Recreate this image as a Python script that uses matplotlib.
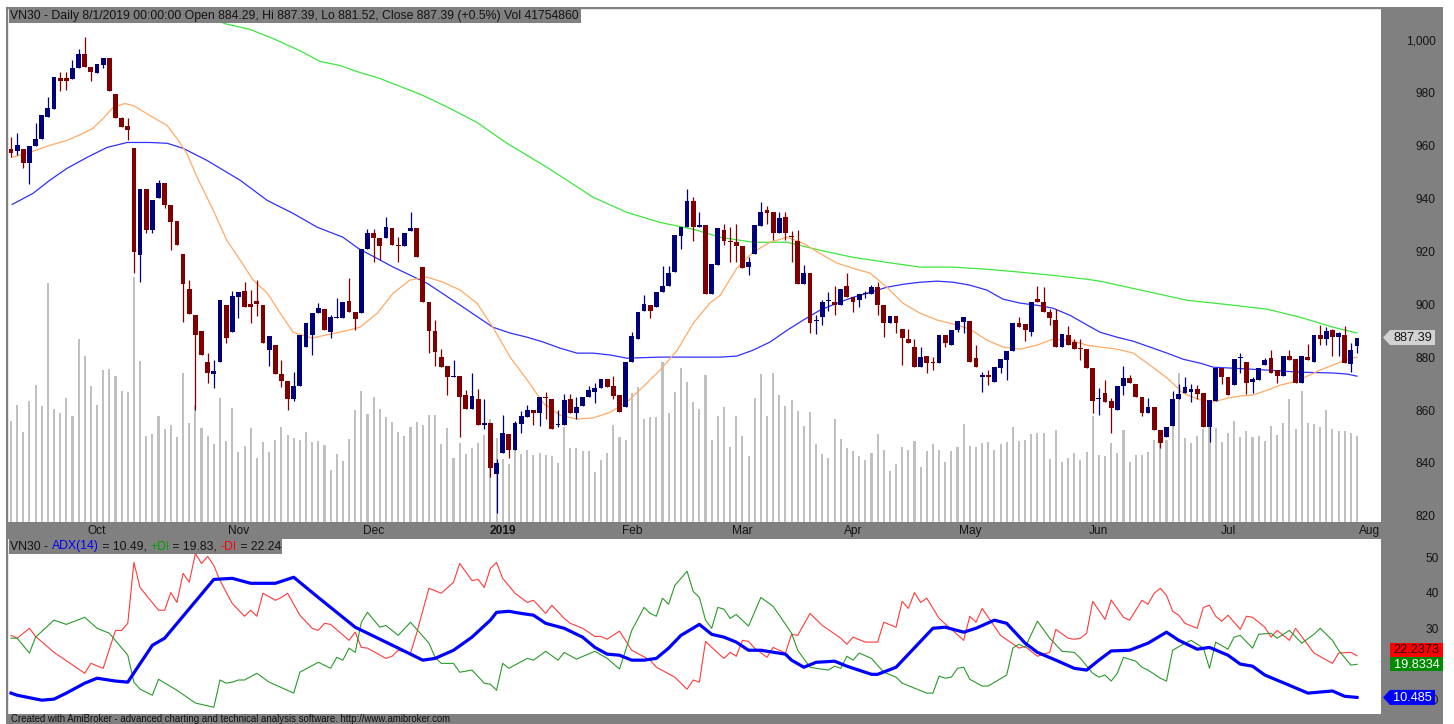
import matplotlib
matplotlib.use("Agg")
import matplotlib.pyplot as plt
from matplotlib.patches import Polygon, Rectangle
from matplotlib.ticker import FuncFormatter

plt.rcParams['font.family'] = ['Liberation Sans', 'DejaVu Sans']

# ---------------- data (VN30 daily) ----------------
opens = [958.5, 957.7, 958.5, 953.2, 959.6, 962.6, 970.9, 973.9, 985.3, 985.3,
         984.9, 989.4, 994.7, 989.8, 987.2, 990.2, 993.2, 979.3, 970.2, 967.2,
         959.0, 918.5, 943.4, 927.9, 940.0, 945.7, 937.4, 931.3, 919.0, 905.7,
         895.8, 890.0, 878.1, 873.6, 878.1, 899.6, 889.4, 902.6, 904.9, 900.0,
         901.1, 899.6, 882.6, 884.5, 873.6, 871.0, 864.0, 869.0, 883.8, 888.3,
         896.6, 898.0, 889.4, 894.7, 894.7, 901.1, 897.0, 896.6, 921.0, 927.0,
         925.0, 925.0, 928.7, 922.3, 922.0, 927.5, 928.7, 914.0, 900.8, 890.0,
         880.0, 876.6, 872.5, 873.0, 865.7, 860.4, 864.0, 854.3, 855.0, 835.8,
         843.8, 851.0, 845.0, 854.7, 857.3, 860.0, 859.0, 865.0, 864.0, 854.3,
         854.3, 864.0, 859.0, 861.5, 865.0, 867.0, 868.3, 871.7, 869.0, 865.7,
         861.0, 878.0, 887.0, 897.4, 899.6, 899.0, 904.5, 906.8, 912.0, 925.7,
         929.0, 939.0, 929.0, 930.0, 904.0, 914.7, 928.0, 923.6, 923.4, 922.0,
         914.0, 919.0, 929.4, 935.5, 934.7, 926.8, 933.0, 925.5, 924.0, 907.5,
         911.7, 893.5, 895.0, 901.3, 901.0, 899.6, 906.8, 902.6, 901.5, 904.0,
         904.0, 906.4, 899.6, 892.8, 895.5, 890.6, 886.8, 883.8, 876.2, 880.4,
         878.0, 877.7, 888.3, 884.5, 890.2, 893.2, 893.5, 879.6, 872.5, 873.4,
         870.5, 876.0, 879.0, 882.2, 892.8, 892.4, 889.4, 902.0, 901.0, 897.0,
         894.0, 883.8, 888.3, 885.7, 883.2, 883.0, 875.8, 864.0, 866.4, 863.4,
         860.0, 869.0, 872.0, 870.0, 865.0, 859.0, 861.0, 852.5, 849.8, 854.0,
         864.0, 866.4, 867.0, 868.0, 866.4, 853.6, 863.4, 876.0, 872.5, 869.4,
         879.6, 878.0, 870.6, 871.3, 877.0, 879.6, 875.0, 872.8, 880.4, 879.2,
         870.2, 880.0, 878.0, 888.3, 887.0, 890.2, 887.5, 888.3, 877.4, 884.29]
highs = [963.0, 964.5, 958.5, 959.6, 968.6, 971.3, 978.1, 985.7, 987.9, 987.6,
         992.1, 996.6, 1000.8, 989.8, 990.6, 993.2, 993.2, 979.3, 970.6, 970.2,
         959.0, 943.4, 943.4, 939.3, 946.8, 945.7, 937.4, 931.3, 919.0, 909.1,
         895.8, 890.0, 881.5, 878.9, 901.5, 899.6, 904.9, 904.5, 908.3, 905.3,
         909.1, 899.6, 887.9, 884.5, 878.9, 871.0, 874.3, 888.3, 892.8, 896.6,
         900.4, 898.0, 895.8, 902.2, 900.8, 910.0, 897.0, 921.0, 928.3, 928.3,
         925.0, 932.8, 928.7, 925.3, 927.0, 934.7, 928.7, 914.0, 900.8, 894.0,
         883.0, 876.6, 879.0, 873.0, 867.5, 874.0, 868.0, 864.0, 855.0, 841.5,
         858.1, 851.0, 856.0, 859.5, 862.0, 860.0, 865.0, 867.0, 864.0, 859.9,
         866.0, 866.0, 865.0, 865.0, 869.0, 870.4, 871.7, 871.7, 873.0, 865.7,
         878.0, 889.4, 897.0, 903.4, 899.6, 904.5, 914.3, 914.3, 926.0, 929.0,
         943.4, 940.5, 934.7, 930.0, 915.0, 928.7, 930.4, 929.0, 930.4, 922.0,
         918.0, 929.8, 938.5, 937.0, 934.7, 934.7, 934.7, 927.5, 927.9, 914.7,
         911.7, 895.8, 901.5, 904.5, 907.0, 905.7, 911.7, 902.6, 903.8, 905.0,
         907.2, 908.3, 899.6, 895.5, 895.5, 890.6, 890.5, 887.0, 883.8, 880.4,
         880.0, 888.3, 888.3, 890.2, 893.5, 895.0, 893.5, 884.5, 874.3, 875.0,
         876.2, 879.2, 882.2, 892.8, 895.0, 892.4, 900.8, 906.8, 906.4, 898.0,
         898.0, 888.7, 891.7, 887.0, 887.0, 883.0, 875.8, 868.3, 871.3, 864.6,
         869.0, 876.6, 873.3, 870.0, 865.0, 864.4, 861.0, 852.5, 853.7, 867.2,
         869.8, 872.5, 870.0, 869.5, 866.4, 863.8, 876.0, 876.0, 872.5, 879.2,
         881.5, 878.0, 872.5, 876.0, 879.5, 882.6, 875.0, 880.4, 882.6, 879.2,
         880.4, 885.0, 888.3, 892.0, 891.5, 890.6, 889.5, 891.7, 885.3, 887.39]
lows = [955.5, 956.2, 951.3, 945.5, 959.6, 962.6, 970.9, 973.9, 980.4, 980.8,
        984.9, 989.4, 989.8, 984.5, 987.2, 989.1, 980.4, 970.2, 966.8, 961.9,
        911.7, 908.3, 926.8, 926.8, 940.0, 936.2, 920.4, 922.3, 893.2, 896.2,
        860.0, 880.8, 870.2, 868.3, 878.1, 885.3, 889.4, 894.7, 898.9, 892.8,
        895.5, 885.3, 876.6, 873.6, 868.7, 860.0, 863.4, 869.0, 883.8, 880.8,
        896.6, 890.2, 887.2, 894.7, 894.7, 897.0, 890.2, 896.6, 921.0, 916.0,
        916.6, 925.0, 922.3, 916.0, 922.0, 927.5, 918.0, 900.8, 881.5, 876.6,
        876.2, 865.7, 872.5, 850.0, 860.4, 860.4, 854.3, 853.0, 834.7, 821.0,
        843.8, 842.0, 845.0, 851.5, 857.3, 854.3, 854.0, 856.5, 853.0, 853.5,
        854.3, 859.0, 856.5, 861.5, 865.0, 862.5, 868.3, 868.7, 864.0, 859.2,
        861.0, 878.0, 887.0, 897.4, 894.7, 899.0, 904.5, 906.8, 912.0, 920.8,
        929.0, 923.8, 929.0, 904.0, 904.0, 914.7, 922.3, 916.0, 916.0, 913.6,
        911.0, 919.0, 929.4, 930.4, 924.2, 926.8, 924.2, 916.0, 907.5, 907.5,
        889.1, 888.7, 892.0, 897.5, 896.0, 899.6, 902.6, 897.0, 899.0, 902.5,
        904.0, 896.0, 887.5, 892.8, 889.0, 877.0, 885.3, 876.2, 876.2, 874.0,
        875.0, 877.7, 883.8, 884.5, 889.4, 889.1, 878.0, 876.2, 866.8, 869.4,
        870.5, 874.0, 871.5, 882.2, 891.3, 886.0, 887.9, 901.0, 897.0, 892.0,
        883.8, 883.8, 884.5, 883.0, 879.0, 875.8, 858.9, 858.0, 863.0, 851.5,
        860.0, 865.5, 870.2, 865.0, 857.7, 859.0, 852.5, 845.7, 849.8, 854.0,
        864.0, 866.4, 863.0, 864.0, 853.6, 848.0, 863.4, 870.0, 865.7, 869.4,
        874.0, 866.0, 866.4, 871.3, 877.0, 874.0, 870.2, 872.8, 879.0, 870.2,
        870.2, 879.0, 878.0, 884.5, 884.5, 880.4, 880.4, 877.7, 874.3, 881.52]
closes = [957.0, 960.0, 953.2, 959.6, 962.6, 971.3, 974.3, 985.7, 984.5, 984.2,
          989.1, 994.7, 989.8, 987.6, 990.6, 993.2, 980.4, 970.2, 966.8, 966.0,
          919.6, 943.4, 927.9, 939.3, 945.7, 937.4, 931.0, 922.3, 907.5, 896.2,
          888.3, 880.8, 874.0, 874.7, 901.5, 887.2, 903.0, 904.5, 898.9, 898.9,
          900.0, 885.3, 887.9, 873.6, 871.0, 864.0, 869.0, 888.3, 892.8, 896.6,
          898.5, 890.2, 895.1, 895.1, 900.8, 897.0, 894.3, 921.0, 927.0, 925.0,
          922.0, 929.0, 922.3, 922.0, 927.0, 928.7, 918.0, 900.8, 889.8, 882.0,
          876.2, 872.5, 873.0, 865.0, 860.4, 865.3, 854.3, 855.0, 838.0, 840.0,
          851.3, 845.0, 855.0, 857.7, 860.0, 859.0, 865.0, 864.5, 853.0, 854.5,
          863.8, 859.0, 861.0, 865.0, 867.5, 868.5, 871.7, 868.7, 865.3, 859.2,
          878.0, 888.0, 897.0, 900.0, 897.4, 904.5, 907.0, 911.7, 926.0, 929.0,
          939.0, 929.0, 930.0, 904.0, 915.0, 928.7, 924.0, 923.4, 922.0, 913.6,
          916.0, 929.8, 935.0, 934.3, 926.8, 932.4, 926.8, 925.3, 907.5, 911.7,
          892.8, 893.9, 901.0, 901.5, 899.6, 905.7, 902.6, 901.0, 903.8, 904.2,
          906.4, 899.6, 892.8, 895.5, 892.8, 887.2, 885.3, 876.2, 880.0, 877.7,
          877.7, 888.3, 885.3, 890.2, 893.5, 895.0, 878.0, 876.2, 873.4, 872.5,
          876.2, 879.2, 882.2, 892.8, 891.3, 890.2, 900.8, 901.0, 897.0, 894.7,
          883.8, 888.7, 884.5, 883.0, 883.0, 875.8, 863.4, 864.4, 863.0, 860.8,
          869.0, 872.0, 870.2, 865.0, 859.0, 861.0, 852.5, 847.5, 853.6, 864.0,
          866.0, 868.7, 868.0, 866.0, 853.6, 863.8, 876.0, 872.5, 865.7, 879.2,
          880.0, 870.2, 871.7, 876.0, 879.0, 874.0, 872.8, 880.4, 879.0, 870.2,
          880.4, 879.0, 888.3, 886.8, 889.8, 887.5, 889.0, 877.7, 882.6, 887.39]
# volume in millions of shares
volume_m = [49.0, 56.8, 43.7, 58.7, 66.5, 56.3, 116.0, 54.9, 52.9, 60.2,
            51.5, 88.8, 80.6, 66.0, 56.8, 73.8, 74.3, 70.9, 63.6, 63.1,
            118.9, 78.2, 41.8, 42.7, 51.5, 45.2, 47.1, 41.3, 72.3, 48.1,
            56.8, 45.6, 41.8, 37.9, 60.2, 39.3, 55.3, 34.0, 36.9, 45.6,
            31.1, 38.8, 34.0, 39.8, 46.1, 42.2, 40.8, 39.8, 43.7, 38.8,
            39.3, 37.4, 25.2, 33.0, 29.6, 40.3, 54.4, 63.6, 52.4, 60.7,
            54.9, 51.0, 48.6, 43.7, 41.8, 46.1, 48.6, 47.1, 51.9, 51.9,
            37.9, 45.6, 31.1, 38.4, 33.0, 35.9, 38.4, 42.2, 50.0, 40.8,
            30.6, 28.2, 35.4, 33.0, 35.0, 32.5, 33.5, 32.5, 32.0, 28.6,
            46.1, 35.9, 35.9, 34.5, 34.5, 24.3, 30.1, 33.5, 47.1, 41.3,
            39.8, 62.6, 65.5, 50.0, 51.0, 51.0, 77.7, 52.9, 63.1, 74.8,
            68.0, 58.3, 54.9, 71.4, 39.8, 51.5, 55.8, 36.4, 51.5, 41.8,
            32.0, 60.2, 71.9, 51.5, 72.3, 61.7, 56.3, 59.2, 53.9, 46.6,
            53.4, 37.9, 33.0, 31.1, 50.0, 40.3, 35.9, 34.5, 32.0, 30.1,
            33.5, 42.7, 35.0, 24.8, 28.2, 36.4, 35.0, 39.3, 26.7, 34.5,
            37.9, 35.0, 29.1, 34.5, 36.4, 47.6, 36.9, 36.4, 38.4, 38.8,
            35.0, 37.9, 38.8, 46.1, 39.3, 39.8, 42.7, 43.2, 43.2, 30.6,
            44.7, 29.1, 31.1, 33.5, 30.1, 34.0, 51.5, 32.5, 32.0, 38.4,
            33.5, 44.7, 29.1, 32.5, 32.5, 34.0, 39.8, 44.2, 39.8, 52.9,
            72.3, 40.8, 38.4, 41.8, 45.2, 49.0, 45.6, 38.8, 43.2, 49.0,
            41.3, 44.2, 41.3, 41.8, 39.3, 46.6, 42.2, 48.1, 59.7, 45.2,
            63.6, 48.1, 47.6, 46.1, 54.4, 45.2, 44.2, 44.2, 43.2, 41.75486]

# moving averages (bar index, value)
ma_fast = [(0.2, 955.5), (3.1, 957.4), (6.3, 960.0), (9.1, 961.9), (11.7, 964.5), (13.3, 966.4),
           (15.0, 970.2), (16.6, 974.3), (18.5, 975.8), (19.9, 975.1), (22.6, 971.3), (25.4, 967.5),
           (27.0, 962.6), (28.6, 957.0), (30.3, 947.9), (32.9, 935.5), (35.1, 924.2), (37.3, 916.6),
           (39.4, 909.1), (41.7, 904.2), (43.8, 896.6), (45.9, 889.4), (47.5, 888.3), (49.0, 887.2),
           (51.1, 888.3), (53.5, 889.4), (56.8, 891.3), (59.6, 896.6), (62.2, 904.2), (64.9, 909.1),
           (67.7, 910.2), (70.3, 908.3), (73.1, 905.3), (75.8, 900.4), (78.4, 891.3), (81.2, 880.0),
           (84.0, 871.3), (86.6, 862.6), (89.3, 858.1), (92.1, 856.6), (94.7, 857.0), (97.5, 859.2),
           (100.2, 863.0), (102.8, 868.7), (105.6, 875.1), (108.4, 882.6), (111.0, 892.8), (113.7, 900.4),
           (115.4, 903.4), (118.1, 913.6), (120.7, 919.6), (123.5, 923.4), (126.3, 925.3), (128.9, 923.0),
           (131.6, 919.2), (134.4, 915.5), (137.0, 913.6), (139.8, 911.7), (142.5, 906.4), (145.1, 900.4),
           (147.9, 896.6), (150.7, 894.0), (153.3, 892.5), (156.0, 890.6), (158.8, 886.4), (161.4, 883.8),
           (164.2, 883.0), (166.9, 884.5), (169.5, 886.8), (172.3, 886.4), (175.1, 884.5), (177.2, 883.8),
           (180.0, 883.0), (182.6, 881.5), (185.3, 877.0), (188.1, 872.1), (190.7, 866.4), (193.5, 863.8),
           (195.6, 863.0), (197.9, 864.5), (200.0, 865.3), (202.1, 865.7), (204.4, 867.5), (206.5, 869.4),
           (208.6, 870.6), (210.9, 872.8), (213.0, 875.1), (215.1, 877.0), (217.4, 879.2), (219.0, 880.0)]
ma_mid = [(0.2, 937.7), (3.6, 941.9), (6.3, 946.8), (9.1, 951.3), (12.4, 955.5), (15.6, 959.2),
          (18.9, 961.1), (22.6, 961.1), (25.4, 960.8), (28.0, 958.9), (31.9, 954.3), (37.3, 946.8),
          (41.7, 939.2), (45.9, 934.3), (49.8, 929.1), (54.0, 925.3), (56.5, 921.1), (62.2, 914.0),
          (67.7, 907.9), (73.1, 899.6), (78.4, 891.3), (81.2, 889.1), (84.0, 887.5), (86.6, 885.7),
          (89.3, 883.4), (92.1, 881.5), (94.7, 881.5), (97.5, 880.8), (100.2, 879.6), (105.6, 880.0),
          (111.0, 880.0), (115.4, 880.0), (118.1, 880.4), (120.7, 882.6), (123.5, 885.7), (126.3, 890.2),
          (128.9, 894.0), (131.6, 897.7), (134.4, 900.4), (137.0, 902.6), (139.8, 904.5), (142.5, 906.4),
          (145.1, 907.5), (147.9, 908.3), (150.7, 908.7), (153.3, 908.3), (156.0, 907.2), (158.8, 905.3),
          (161.4, 901.9), (164.2, 900.4), (166.9, 899.6), (169.5, 898.5), (172.3, 895.8), (175.1, 892.1),
          (177.2, 889.4), (180.0, 887.5), (182.6, 886.0), (185.3, 883.8), (188.1, 881.5), (190.7, 879.2),
          (193.5, 877.7), (195.6, 876.2), (198.9, 875.8), (204.4, 875.1), (209.7, 874.3), (215.1, 874.0),
          (217.4, 873.6), (219.0, 872.8)]
ma_slow = [(30.0, 1010.5), (34.8, 1006.0), (38.9, 1003.8), (42.6, 1000.4), (47.0, 995.8), (50.3, 991.7),
           (53.5, 990.2), (56.8, 987.5), (60.0, 985.3), (63.3, 982.3), (67.0, 978.9), (71.4, 974.0),
           (75.8, 968.7), (80.7, 960.8), (84.0, 956.2), (87.2, 951.7), (90.5, 946.8), (94.7, 940.4),
           (100.2, 934.7), (105.6, 930.9), (111.0, 928.3), (115.4, 925.3), (120.7, 923.4), (126.3, 923.4),
           (131.6, 920.4), (137.0, 917.7), (142.5, 915.8), (147.9, 914.0), (153.3, 914.0), (158.8, 913.2),
           (164.2, 912.1), (169.5, 910.9), (175.1, 909.4), (177.2, 908.7), (191.3, 901.5), (198.9, 899.6),
           (204.4, 898.1), (209.7, 895.1), (215.1, 891.3), (219.0, 889.1)]

# ADX(14) panel (bar index, value)
minus_di = [(0, 28.0), (1, 27.2), (3, 30.0), (4, 27.7), (7, 23.2), (12, 17.3), (13, 20.1), (15, 18.7),
            (17, 29.4), (18, 29.4), (19, 31.4), (20, 48.6), (21, 41.5), (24, 35.1), (25, 35.1), (26, 40.1),
            (27, 37.3), (28, 45.5), (29, 43.0), (30, 51.1), (31, 48.3), (32, 50.3), (33, 47.7), (34, 43.5),
            (36, 37.0), (38, 33.4), (39, 35.1), (40, 33.4), (41, 39.9), (43, 37.9), (44, 38.7), (45, 39.9),
            (47, 33.7), (49, 30.0), (50, 29.4), (51, 31.4), (52, 31.1), (55, 26.6), (56, 28.9), (57, 24.6),
            (58, 24.4), (61, 21.5), (62, 22.1), (63, 23.8), (65, 23.0), (66, 28.6), (68, 41.3), (70, 39.9),
            (72, 43.0), (73, 48.3), (75, 43.5), (76, 43.8), (77, 41.5), (78, 46.9), (79, 48.6), (80, 44.1),
            (82, 39.9), (84, 37.3), (85, 37.9), (87, 34.2), (88, 36.5), (90, 32.8), (91, 31.4), (93, 30.0),
            (95, 27.7), (96, 27.7), (97, 26.9), (99, 29.2), (101, 23.8), (104, 21.0), (105, 19.0), (108, 16.2),
            (110, 12.8), (111, 15.4), (112, 14.8), (113, 26.3), (115, 23.0), (116, 21.5), (117, 23.2),
            (118, 22.1), (119, 26.6), (120, 26.3), (121, 24.4), (123, 21.8), (124, 24.6), (126, 23.0),
            (127, 28.3), (128, 28.0), (130, 34.2), (132, 30.8), (135, 27.2), (136, 25.5), (137, 27.5),
            (139, 26.1), (141, 26.1), (142, 31.7), (144, 30.3), (145, 37.6), (146, 35.6), (147, 40.1),
            (148, 37.3), (149, 38.5), (151, 32.8), (155, 26.6), (156, 33.4), (157, 31.7), (158, 35.6),
            (159, 33.1), (161, 28.0), (164, 24.4), (165, 24.9), (167, 22.1), (169, 23.2), (170, 29.7),
            (172, 27.2), (173, 26.9), (174, 27.2), (175, 28.6), (176, 37.6), (178, 32.5), (179, 38.0),
            (181, 33.1), (182, 32.3), (184, 37.9), (185, 36.8), (186, 39.9), (187, 41.3), (188, 39.3),
            (189, 34.8), (190, 33.7), (191, 31.4), (193, 30.0), (194, 35.9), (195, 36.5), (196, 33.4),
            (197, 32.0), (198, 33.7), (200, 29.7), (201, 33.4), (202, 33.1), (204, 30.3), (205, 27.5),
            (206, 29.4), (208, 26.6), (209, 30.0), (212, 23.0), (215, 20.1), (216, 23.0), (218, 23.2),
            (219, 22.2373)]
plus_di = [(0, 27.2), (1, 27.2), (3, 23.0), (4, 27.5), (7, 32.3), (9, 31.1), (12, 33.1), (14, 30.0),
           (16, 28.6), (19, 22.4), (20, 14.8), (21, 12.8), (23, 11.1), (24, 15.6), (27, 12.5), (30, 8.9),
           (33, 7.7), (34, 15.4), (35, 14.5), (36, 14.8), (37, 15.4), (38, 15.4), (40, 17.3), (42, 14.8),
           (46, 11.7), (47, 17.6), (50, 20.4), (52, 18.7), (53, 21.8), (54, 21.0), (55, 24.4), (56, 23.2),
           (57, 31.7), (58, 34.5), (60, 30.3), (61, 30.8), (63, 28.0), (65, 31.7), (68, 25.8), (69, 21.8),
           (70, 20.1), (72, 20.1), (73, 17.6), (75, 18.2), (77, 14.5), (78, 14.2), (79, 12.5), (80, 20.1),
           (81, 18.7), (84, 21.5), (85, 21.0), (87, 23.5), (89, 21.0), (90, 23.2), (92, 21.3), (95, 23.5),
           (97, 21.5), (99, 18.5), (100, 23.8), (101, 29.4), (103, 35.9), (104, 34.2), (105, 33.4),
           (106, 38.5), (107, 36.8), (108, 42.1), (110, 46.1), (111, 40.4), (112, 38.7), (113, 32.3),
           (114, 30.0), (115, 35.9), (116, 35.4), (117, 32.8), (118, 33.9), (120, 30.6), (122, 38.7),
           (124, 36.2), (125, 33.7), (127, 28.6), (128, 23.8), (130, 19.0), (131, 18.7), (133, 18.2),
           (134, 19.3), (135, 18.7), (136, 22.1), (137, 21.0), (138, 23.0), (140, 21.5), (142, 17.6),
           (144, 16.2), (145, 14.5), (149, 11.7), (150, 11.7), (151, 16.5), (152, 15.9), (153, 16.2),
           (154, 18.7), (155, 19.0), (156, 15.6), (158, 13.7), (159, 13.7), (162, 16.8), (163, 24.4),
           (164, 25.5), (165, 24.6), (167, 32.0), (169, 27.2), (171, 23.5), (173, 23.2), (174, 21.5),
           (176, 17.3), (177, 16.2), (178, 16.8), (179, 15.1), (180, 17.3), (181, 21.8), (183, 20.7),
           (184, 19.0), (185, 18.2), (187, 15.9), (188, 15.1), (189, 23.8), (191, 25.8), (192, 26.6),
           (194, 24.4), (195, 18.7), (196, 26.1), (198, 24.1), (199, 27.5), (200, 28.0), (202, 24.4),
           (203, 28.3), (205, 28.6), (206, 27.2), (208, 29.4), (210, 25.8), (212, 28.3), (213, 30.0),
           (215, 26.6), (216, 23.8), (218, 19.6), (219, 19.8334)]
adx = [(0, 11.7), (1, 11.1), (5, 9.7), (7, 10.0), (9, 11.7), (12, 14.5), (14, 15.9), (17, 15.1),
       (19, 14.8), (23, 25.2), (25, 27.2), (33, 43.8), (36, 44.1), (39, 42.7), (43, 42.7), (46, 44.4),
       (50, 38.7), (56, 30.3), (61, 26.1), (67, 21.0), (69, 21.5), (72, 23.8), (75, 27.5), (78, 32.3),
       (79, 34.5), (81, 34.8), (83, 34.2), (85, 33.7), (87, 31.4), (90, 30.0), (93, 27.5), (95, 24.6),
       (97, 22.7), (99, 22.4), (101, 21.0), (103, 21.0), (105, 21.5), (107, 24.4), (109, 28.0),
       (112, 31.1), (114, 28.3), (116, 27.5), (118, 26.1), (120, 23.8), (122, 23.8), (126, 22.7),
       (127, 21.0), (129, 19.0), (131, 20.4), (134, 20.7), (136, 19.3), (140, 17.0), (141, 17.0),
       (144, 19.0), (150, 30.0), (152, 30.3), (155, 28.9), (157, 30.0), (160, 32.3), (162, 31.4),
       (165, 25.8), (167, 23.2), (170, 21.0), (173, 18.7), (175, 18.2), (177, 21.0), (179, 23.6),
       (182, 23.8), (185, 25.8), (188, 28.9), (190, 26.6), (193, 24.1), (195, 24.6), (198, 22.4),
       (200, 19.9), (202, 19.3), (204, 16.8), (208, 13.9), (211, 11.7), (213, 12.0), (215, 12.3),
       (217, 10.8), (219, 10.4852)]

month_pos = [14, 37, 59, 80, 101, 119, 137, 156, 177, 198, 221]
month_lbl = ['Oct', 'Nov', 'Dec', '2019', 'Feb', 'Mar', 'Apr', 'May', 'Jun', 'Jul', 'Aug']
price_ticks = [820, 840, 860, 880, 900, 920, 940, 960, 980, 1000]
adx_ticks = [10, 30, 40, 50]   # the 20 label sits hidden under the DI value boxes

# ---------------- layout ----------------
W, H = 1454, 724
GREY = '#808080'
TXT = '#141414'
UP, DN = '#00007a', '#800000'
FS = 8.8      # title / legend text
TFS = 8.6     # axis labels

fig = plt.figure(figsize=(W / 100, H / 100), dpi=100, facecolor=GREY)


def box(l, t, r, b):
    return [l / W, 1 - b / H, (r - l) / W, (b - t) / H]


L, R = 7, 1381
ax_v = fig.add_axes(box(L, 7.5, R, 522))
ax = fig.add_axes(box(L, 7.5, R, 522))
ax2 = fig.add_axes(box(L, 538.5, R, 714))
XL = (-0.65, 222.9)

# volume (background layer)
n = len(closes)
xs = list(range(n))
ax_v.bar(xs, volume_m, width=0.34, color='#c0c0c0', linewidth=0)
ax_v.set_ylim(0, 250)
ax_v.set_xlim(*XL)
ax_v.set_facecolor('white')
ax_v.set_xticks([])
ax_v.set_yticks([])
for s in ax_v.spines.values():
    s.set_visible(False)

# price
ax.patch.set_visible(False)
ax.plot([p[0] for p in ma_slow], [p[1] for p in ma_slow], color='#3ee63e', lw=0.9, zorder=2)
ax.plot([p[0] for p in ma_mid], [p[1] for p in ma_mid], color='#3030ff', lw=0.9, zorder=2)
ax.plot([p[0] for p in ma_fast], [p[1] for p in ma_fast], color='#ffaa66', lw=0.9, zorder=2)
cols = [UP if c >= o else DN for o, c in zip(opens, closes)]
ax.vlines(xs, lows, highs, colors=cols, lw=0.9, zorder=3)
bot = [min(o, c) for o, c in zip(opens, closes)]
hgt = [max(abs(c - o), 0.4) for o, c in zip(opens, closes)]
ax.bar(xs, hgt, bottom=bot, width=0.78, color=cols, linewidth=0, zorder=4)
ax.set_xlim(*XL)
ax.set_ylim(817.7, 1012.1)
for s in ax.spines.values():
    s.set_visible(False)
ax.yaxis.tick_right()
ax.set_yticks(price_ticks)
ax.yaxis.set_major_formatter(FuncFormatter(lambda v, p: f'{v:,.0f}'))
ax.tick_params(axis='y', length=0, pad=39.5, labelsize=TFS, labelcolor=TXT)
for t in ax.get_yticklabels():
    t.set_ha('right')
ax.set_xticks(month_pos)
ax.set_xticklabels(month_lbl)
ax.tick_params(axis='x', length=0, pad=2.2, labelsize=TFS, labelcolor=TXT)
ax.get_xticklabels()[month_lbl.index('2019')].set_fontweight('bold')

# ADX panel
ax2.set_facecolor('white')
ax2.plot([p[0] for p in minus_di], [p[1] for p in minus_di], color='#ff3a3a', lw=0.8)
ax2.plot([p[0] for p in plus_di], [p[1] for p in plus_di], color='#2a9a2a', lw=0.8)
ax2.plot([p[0] for p in adx], [p[1] for p in adx], color='#0000ff', lw=2.3)
ax2.set_xlim(*XL)
ax2.set_ylim(5.8, 55.35)
for s in ax2.spines.values():
    s.set_visible(False)
ax2.set_xticks([])
ax2.yaxis.tick_right()
ax2.set_yticks(adx_ticks)
ax2.tick_params(axis='y', length=0, pad=41.5, labelsize=TFS, labelcolor=TXT)
for t in ax2.get_yticklabels():
    t.set_ha('right')

# ---------------- overlay (frame, titles, value labels) ----------------
ov = fig.add_axes([0, 0, 1, 1])
ov.set_xlim(0, W)
ov.set_ylim(H, 0)
ov.axis('off')
ov.set_zorder(10)
ov.add_patch(Rectangle((0, 0), W, 7, fc='white', ec='none'))
ov.add_patch(Rectangle((0, 0), 6, H, fc='white', ec='none'))
ov.add_patch(Rectangle((1443, 0), W - 1443, H, fc='white', ec='none'))
ov.plot([6, 1382], [7.5, 7.5], color=GREY, lw=1)
ov.plot([6.5, 6.5], [7, H], color=GREY, lw=1)

bb = dict(boxstyle='square,pad=0.12', fc=GREY, ec='none')
title = (f'VN30 - Daily 8/1/2019 00:00:00 Open {opens[-1]:.2f}, Hi {highs[-1]:.2f}, '
         f'Lo {lows[-1]:.2f}, Close {closes[-1]:.2f} (+0.5%) Vol {round(volume_m[-1] * 1e6)}')
ov.text(10.5, 15.5, title, fontsize=FS, color=TXT, va='center', ha='left', bbox=bb)

parts = [('VN30 - ', TXT), ('ADX(14)', '#0000ff'), (f' = {adx[-1][1]:.2f}, ', TXT),
         ('+DI', '#00a000'), (f' = {plus_di[-1][1]:.2f}, ', TXT),
         ('-DI', '#ff0000'), (f' = {minus_di[-1][1]:.2f}', TXT)]
t = ov.text(10.5, 546.5, parts[0][0], fontsize=FS, color=parts[0][1], va='center', ha='left', bbox=bb)
for s, c in parts[1:]:
    t = ov.annotate(s, xy=(1, 0), xycoords=t, va='bottom', ha='left',
                    fontsize=FS, color=c, bbox=bb)

ov.text(11, 719.5, 'Created with AmiBroker - advanced charting and technical analysis software. '
        'http://www.amibroker.com', fontsize=6.9, color='#101010', va='center', ha='left')


def pix_y(axis, v):
    return H - axis.transData.transform((0, v))[1]


def arrow_label(y, text, fc, tc):
    ov.add_patch(Polygon([(1383, y), (1390, y - 7.5), (1435, y - 7.5), (1435, y + 7.5), (1390, y + 7.5)],
                         closed=True, fc=fc, ec='none'))
    ov.text(1432, y + 0.5, text, fontsize=TFS + 0.6, color=tc, va='center', ha='right')


arrow_label(pix_y(ax, closes[-1]), f'{closes[-1]:.2f}', '#d2d2d2', TXT)
arrow_label(pix_y(ax2, adx[-1][1]), f'{adx[-1][1]:.3f}', '#0000ff', 'white')

yg = pix_y(ax2, plus_di[-1][1])
yr = min(pix_y(ax2, minus_di[-1][1]), yg - 14.5)
ov.add_patch(Rectangle((1390, yg - 7), 53, 14, fc='#008a00', ec='none'))
ov.text(1416.5, yg + 0.5, f'{plus_di[-1][1]:.4f}', fontsize=TFS + 0.6, color='white', va='center', ha='center')
ov.add_patch(Rectangle((1390, yr - 7), 53, 14, fc='#ff0000', ec='none'))
ov.text(1416.5, yr + 0.5, f'{minus_di[-1][1]:.4f}', fontsize=TFS + 0.6, color='#200000', va='center', ha='center')

fig.savefig('out.png', dpi=100, facecolor=GREY)
